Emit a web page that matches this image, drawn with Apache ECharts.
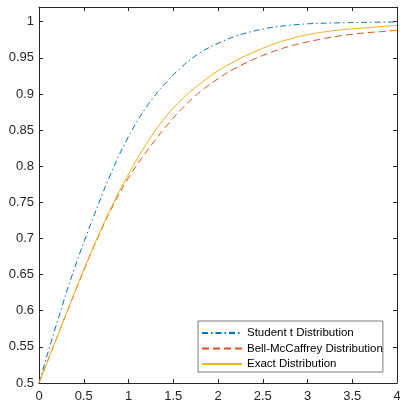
<!DOCTYPE html>
<html><head><meta charset="utf-8">
<script src="https://cdn.jsdelivr.net/npm/echarts/dist/echarts.min.js"></script>
<style>html,body{margin:0;padding:0;background:#fff}#c{width:400px;height:406px}</style>
</head><body><div id="c"></div>
<script>
const xValues = [0,0.2,0.4,0.6,0.8,1.0,1.2,1.4,1.6,1.8,2.0,2.2,2.4,2.6,2.8,3.0,3.2,3.4,3.6,3.8,4.0];
const studentT = [0.500,0.583,0.660,0.727,0.789,0.841,0.882,0.913,0.938,0.957,0.970,0.980,0.987,0.992,0.995,0.997,0.998,0.9985,0.999,0.9993,0.9995];
const bellMcCaffrey = [0.500,0.563,0.625,0.685,0.739,0.784,0.820,0.852,0.880,0.903,0.921,0.936,0.948,0.958,0.966,0.972,0.977,0.981,0.984,0.986,0.988];
const exact = [0.500,0.563,0.626,0.686,0.741,0.789,0.831,0.866,0.893,0.914,0.932,0.946,0.958,0.968,0.976,0.982,0.986,0.989,0.991,0.993,0.995];
const seriesNames = ['Student t Distribution','Bell-McCaffrey Distribution','Exact Distribution'];
const xTickLabels = ['0','0.5','1','1.5','2','2.5','3','3.5','4'];
const yTickLabels = ['0.5','0.55','0.6','0.65','0.7','0.75','0.8','0.85','0.9','0.95','1'];

const axisColor = '#262626';
const font = 'Liberation Sans, Arial, Helvetica, sans-serif';
function pairs(ys){ return xValues.map((x,i)=>[x, ys[i]]); }
function xFmt(v){ const i=Math.round(v/0.5); return (Math.abs(v-i*0.5)<1e-6 && i<xTickLabels.length) ? xTickLabels[i] : ''; }
function yFmt(v){ const i=Math.round((v-0.5)/0.05); return (Math.abs(v-(0.5+i*0.05))<1e-6 && i<yTickLabels.length) ? yTickLabels[i] : ''; }

const baseX = {type:'value', min:0, max:4, interval:0.5,
  axisLine:{show:true, onZero:false, lineStyle:{color:axisColor, width:1}},
  axisTick:{show:true, inside:true, length:4, lineStyle:{color:axisColor}},
  splitLine:{show:false}};
const baseY = {type:'value', min:0.5, max:1.0203, interval:0.05,
  axisLine:{show:true, onZero:false, lineStyle:{color:axisColor, width:1}},
  axisTick:{show:true, inside:true, length:4, lineStyle:{color:axisColor}},
  splitLine:{show:false}};

const chart = echarts.init(document.getElementById('c'), null, {renderer:'canvas'});
chart.setOption({
  animation:false,
  backgroundColor:'#fff',
  grid:{left:39, right:3, top:7, bottom:23, containLabel:false, outerBoundsMode:'none'},
  xAxis:[
    Object.assign({}, baseX, {position:'bottom', axisLabel:{show:true, margin:7, color:axisColor, fontSize:13, fontFamily:font, formatter:xFmt, showMaxLabel:true}}),
    Object.assign({}, baseX, {position:'top', axisLabel:{show:false}})
  ],
  yAxis:[
    Object.assign({}, baseY, {position:'left', axisLabel:{show:true, margin:5, color:axisColor, fontSize:13, fontFamily:font, formatter:yFmt, showMaxLabel:false}}),
    Object.assign({}, baseY, {position:'right', axisLabel:{show:false}})
  ],
  legend:{
    orient:'vertical', left:198, top:321,
    itemWidth:40, itemHeight:14, itemGap:3.5,
    padding:[6,0,2,3],
    backgroundColor:'#fff', borderColor:axisColor, borderWidth:0.6,
    itemStyle:{opacity:0},
    textStyle:{fontSize:11.5, fontFamily:font, color:'#000'},
    data:seriesNames
  },
  series:[
    {name:seriesNames[0], type:'line', data:pairs(studentT), smooth:0.4, symbol:'none',
      lineStyle:{color:'#0072BD', width:1, type:[6,3,1.5,3]}, itemStyle:{color:'#0072BD'}},
    {name:seriesNames[1], type:'line', data:pairs(bellMcCaffrey), smooth:0.4, symbol:'none',
      lineStyle:{color:'#D95319', width:1, type:[7,4]}, itemStyle:{color:'#D95319'}},
    {name:seriesNames[2], type:'line', data:pairs(exact), smooth:0.4, symbol:'none',
      lineStyle:{color:'#EDB120', width:1, type:'solid'}, itemStyle:{color:'#EDB120'}}
  ]
});
</script></body></html>
